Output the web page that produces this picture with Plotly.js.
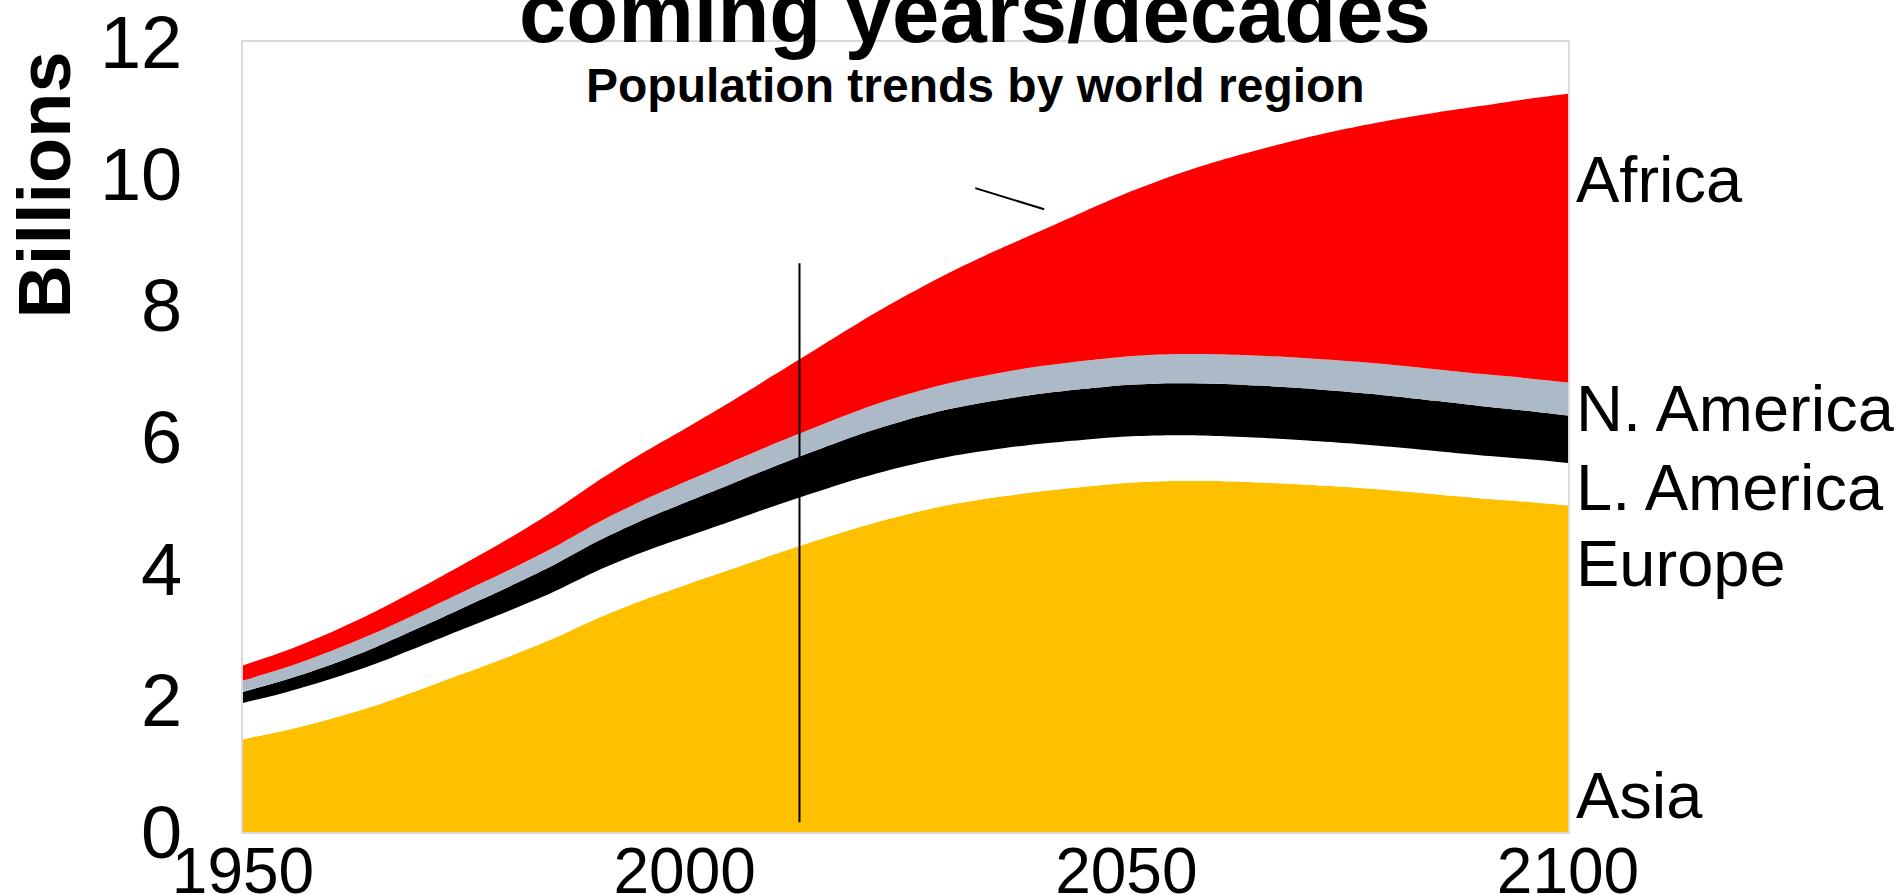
<!DOCTYPE html>
<html>
<head>
<meta charset="utf-8">
<script src="https://cdn.plot.ly/plotly-3.0.1.min.js"></script>
<style>html,body{margin:0;padding:0;background:#fff;}#chart{width:1901px;height:895px;}</style>
</head>
<body>
<div id="chart"></div>
<script>
// Years (5-year steps)
const years = [1950,1955,1960,1965,1970,1975,1980,1985,1990,1995,2000,2005,2010,2015,2020,2025,2030,2035,2040,2045,2050,2055,2060,2065,2070,2075,2080,2085,2090,2095,2100];
// Population in billions (stack order bottom -> top)
const asia = [1.41,1.55,1.72,1.92,2.16,2.41,2.66,2.93,3.24,3.51,3.75,3.98,4.21,4.43,4.64,4.82,4.97,5.08,5.17,5.24,5.30,5.33,5.33,5.31,5.28,5.24,5.19,5.13,5.07,5.02,4.96];
const europe = [0.549,0.577,0.606,0.635,0.657,0.677,0.694,0.708,0.721,0.727,0.726,0.729,0.736,0.738,0.740,0.739,0.734,0.730,0.725,0.716,0.707,0.697,0.687,0.679,0.672,0.666,0.661,0.657,0.653,0.649,0.646];
const latinAmerica = [0.169,0.193,0.220,0.253,0.288,0.325,0.364,0.405,0.446,0.487,0.526,0.563,0.599,0.634,0.668,0.697,0.721,0.741,0.757,0.772,0.784,0.790,0.793,0.792,0.789,0.782,0.773,0.762,0.749,0.735,0.721];
const northAmerica = [0.173,0.187,0.205,0.219,0.231,0.242,0.254,0.267,0.280,0.297,0.313,0.329,0.344,0.358,0.371,0.384,0.396,0.407,0.417,0.425,0.433,0.440,0.447,0.453,0.460,0.467,0.474,0.481,0.488,0.494,0.500];
const africa = [0.229,0.254,0.285,0.322,0.366,0.416,0.478,0.550,0.630,0.717,0.808,0.916,1.044,1.186,1.340,1.504,1.679,1.859,2.046,2.259,2.478,2.700,2.920,3.130,3.334,3.530,3.718,3.896,4.066,4.230,4.387];
const regionNames = ["Asia","Europe","L. America","N. America","Africa"];
const regionColors = ["#FFC000","#FFFFFF","#000000","#ACBAC8","#FF0000"];
const yTicks = [0,2,4,6,8,10,12];
const xTicks = [1950,2000,2050,2100];

const F = "Arial, 'Liberation Sans', sans-serif";
const series = [asia, europe, latinAmerica, northAmerica, africa];
const traces = series.map((s, i) => ({
  type: "scatter", mode: "lines", x: years, y: s, name: regionNames[i],
  stackgroup: "pop", line: {width: 0, color: regionColors[i], shape: "spline", smoothing: 0.8},
  fillcolor: regionColors[i], hoverinfo: "x+y+name"
}));

const labelY = [0.556, 4.08, 5.24, 6.43, 9.91];
const labelAnn = regionNames.map((n, i) => ({
  text: n, xref: "paper", x: 1, xanchor: "left", xshift: 6,
  yref: "y", y: labelY[i], yanchor: "middle", showarrow: false,
  font: {family: F, size: 65, color: "#000"}
}));

const layout = {
  width: 1901, height: 895,
  margin: {l: 242.5, r: 333, t: 42, b: 63, pad: 0},
  paper_bgcolor: "#fff", plot_bgcolor: "#fff",
  showlegend: false,
  font: {family: F, color: "#000"},
  xaxis: {
    range: [1950, 2100], tickvals: xTicks, ticktext: xTicks.map(String),
    showgrid: false, zeroline: false, showline: true, mirror: true,
    linecolor: "#D9D9D9", linewidth: 2, ticks: "",
    ticklabelstandoff: -18,
    tickfont: {family: F, size: 64, color: "#000"}
  },
  yaxis: {
    range: [0, 12], tickvals: yTicks, ticktext: yTicks.map(String),
    showgrid: false, zeroline: false, showline: true, mirror: true,
    linecolor: "#D9D9D9", linewidth: 2, ticks: "",
    ticklabelstandoff: 44,
    tickfont: {family: F, size: 74, color: "#000"}
  },
  shapes: [
    {type: "line", xref: "x", yref: "y", x0: 2013, x1: 2013, y0: 0.15, y1: 8.64, line: {color: "#000", width: 2}},
    {type: "line", xref: "x", yref: "y", x0: 2032.9, x1: 2040.7, y0: 9.78, y1: 9.46, line: {color: "#000", width: 2}}
  ],
  annotations: [
    {text: "<b>coming years/decades</b>", xref: "paper", yref: "paper", x: 0.5526, y: 1.0, yshift: 30,
     xanchor: "center", yanchor: "middle", showarrow: false, font: {family: F, size: 85, color: "#000"}},
    {text: "<b>Population trends by world region</b>", xref: "paper", yref: "paper", x: 0.5526, y: (832-86)/790,
     xanchor: "center", yanchor: "middle", showarrow: false, font: {family: F, size: 48, color: "#000"}},
    {text: "<b>Billions</b>", xref: "paper", yref: "paper", x: (44-242.5)/1325.5, y: (832-185)/790,
     xanchor: "center", yanchor: "middle", textangle: -90, showarrow: false, font: {family: F, size: 74, color: "#000"}}
  ].concat(labelAnn)
};

Plotly.newPlot("chart", traces, layout, {displayModeBar: false});
</script>
</body>
</html>
